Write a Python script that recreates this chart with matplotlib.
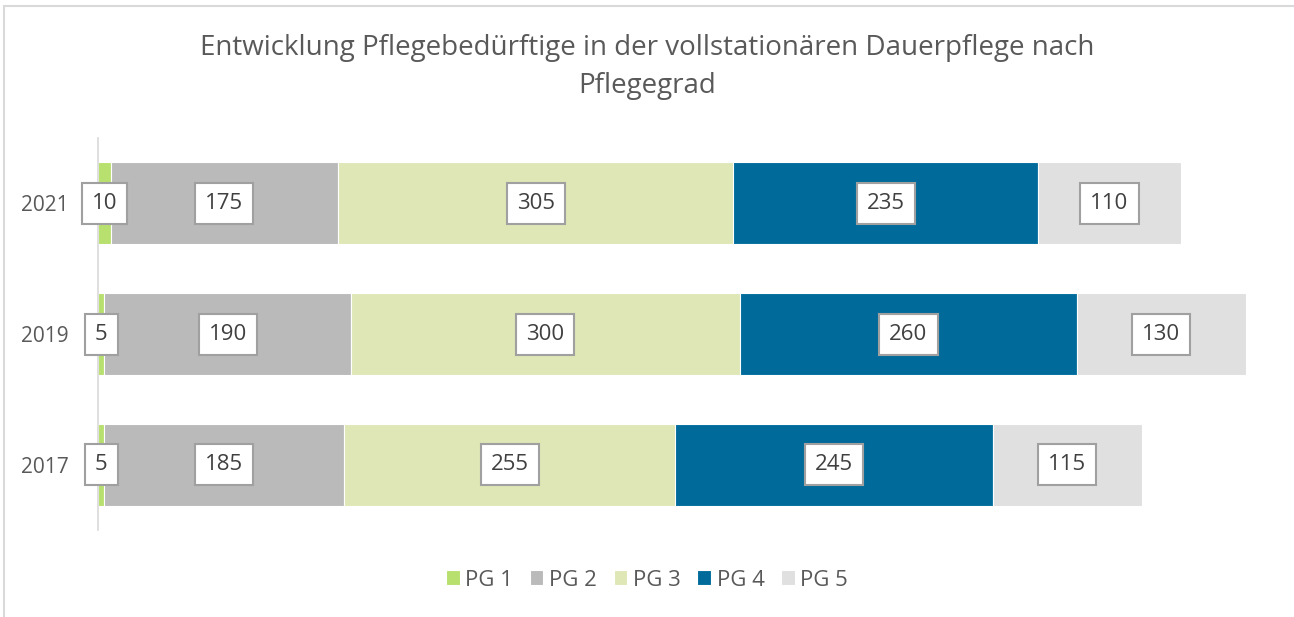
import matplotlib

matplotlib.use("Agg")
import matplotlib.pyplot as plt
from matplotlib.patches import Rectangle

plt.rcParams["font.family"] = ["Open Sans", "DejaVu Sans"]

# Data (top to bottom in the picture: 2021, 2019, 2017)
years = ["2017", "2019", "2021"]
series = ["PG 1", "PG 2", "PG 3", "PG 4", "PG 5"]
pg1 = [5, 5, 10]
pg2 = [185, 190, 175]
pg3 = [255, 300, 305]
pg4 = [245, 260, 235]
pg5 = [115, 130, 110]
colors = ["#B8E06E", "#BABABA", "#DEE7B5", "#006B9B", "#E0E0E0"]

TEXT = "#595959"

fig = plt.figure(figsize=(12.94, 6.17), dpi=100)
ax = fig.add_axes([98 / 1294, 1 - 530 / 617, 1167 / 1294, 392 / 617])

# outer chart frame (only top/left edges are visible in the reference)
fig.patches.append(Rectangle((4 / 1294, -0.1), 1.2, (1 - 6 / 617) + 0.1,
                             transform=fig.transFigure, fill=False,
                             edgecolor="#D9D9D9", linewidth=1.5))

left = [0, 0, 0]
for name, vals, col in zip(series, [pg1, pg2, pg3, pg4, pg5], colors):
    bars = ax.barh(years, vals, left=left, height=0.63, color=col,
                   edgecolor="white", linewidth=0.8, label=name)
    for b, v in zip(bars, vals):
        ax.text(b.get_x() + b.get_width() / 2, b.get_y() + b.get_height() / 2,
                str(v), ha="center", va="center", fontsize=16, color="#404040",
                bbox=dict(boxstyle="square,pad=0.45", facecolor="white",
                          edgecolor="#A0A0A0", linewidth=1.5))
    left = [l + v for l, v in zip(left, vals)]

ax.set_xlim(0, 900)
ax.set_ylim(-0.5, 2.5)
ax.set_xticks([])
for s in ["top", "right", "bottom"]:
    ax.spines[s].set_visible(False)
ax.spines["left"].set_color("#D9D9D9")
ax.spines["left"].set_linewidth(1.2)
ax.tick_params(axis="y", length=0, labelsize=15, labelcolor=TEXT, pad=21)

fig.text(0.5, 1 - 67 / 617,
         "Entwicklung Pflegebedürftige in der vollstationären Dauerpflege nach\nPflegegrad",
         ha="center", va="center", fontsize=20, color=TEXT, linespacing=1.5)

fig.legend(loc="center", bbox_to_anchor=(0.5, 1 - 580 / 617), ncol=5,
           frameon=False, fontsize=16, labelcolor=TEXT, handlelength=0.62,
           handleheight=0.62, handletextpad=0.25, columnspacing=0.75)

fig.savefig("out.png", dpi=100)
